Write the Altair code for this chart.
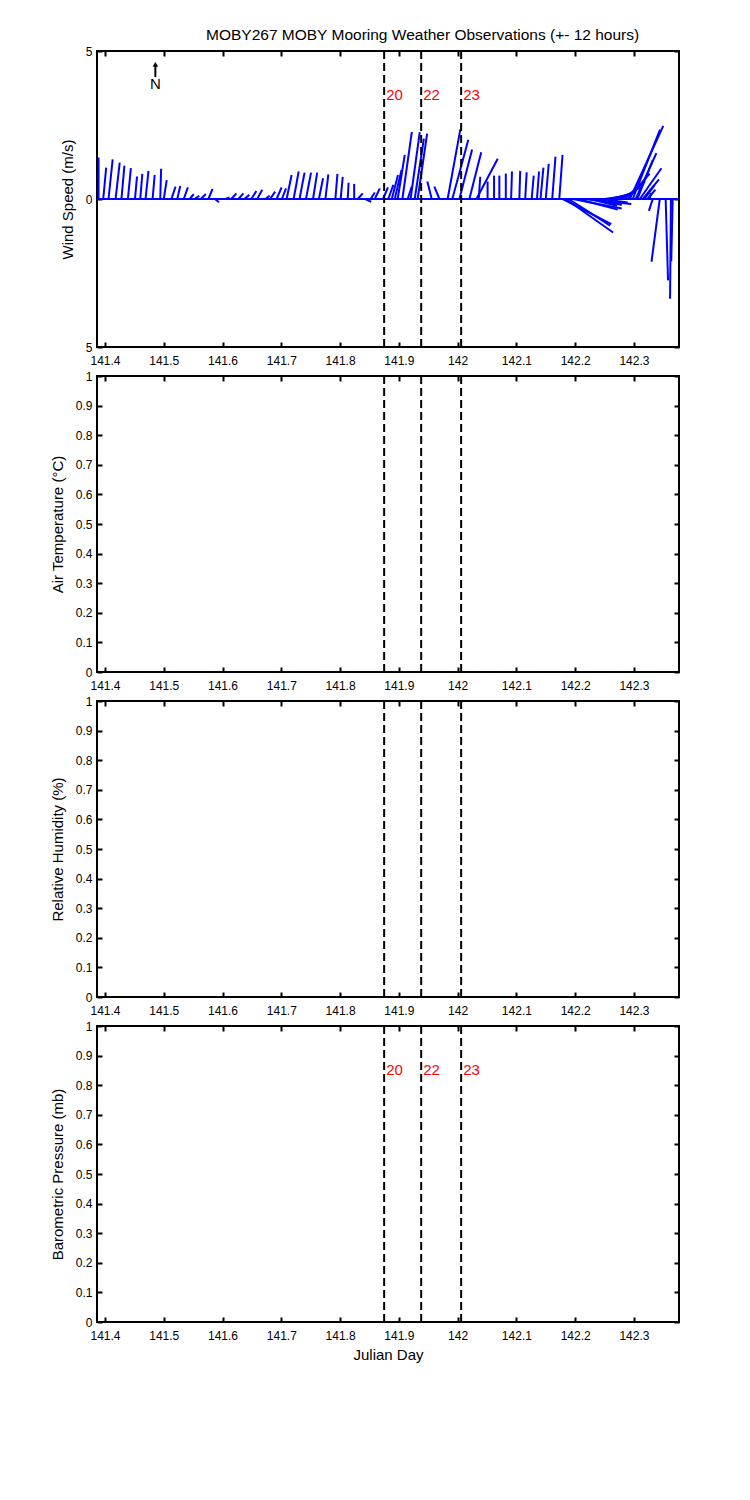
import altair as alt
import pandas as pd

FONT = "Liberation Sans"
BLUE = "#0000ff"
TITLE = "MOBY267 MOBY Mooring Weather Observations (+- 12 hours)"

# ---- wind stick data (Julian day, east component u, north component v, m/s)
stick_day = [
    141.389, 141.397, 141.406, 141.418, 141.428, 141.439, 141.451, 141.460, 141.469, 141.481,
    141.494, 141.500, 141.513, 141.523, 141.534, 141.544, 141.552, 141.563, 141.576, 141.587,
    141.605, 141.615, 141.627, 141.637, 141.649, 141.659, 141.673, 141.681, 141.692, 141.701,
    141.709, 141.721, 141.731, 141.742, 141.754, 141.764, 141.775, 141.792, 141.801, 141.813,
    141.824, 141.830, 141.843, 141.852, 141.859, 141.873,
    141.882, 141.888, 141.893, 141.898, 141.906, 141.915, 141.920, 141.927, 141.932, 141.956,
    141.969, 141.983, 141.991, 142.003, 142.020, 142.036, 142.032,
    142.051, 142.062, 142.071, 142.082, 142.091, 142.105, 142.115, 142.126, 142.135, 142.141,
    142.150, 142.161, 142.173,
    142.179, 142.184, 142.189, 142.196, 142.204, 142.214, 142.225, 142.235, 142.245,
    142.250, 142.259, 142.267, 142.276, 142.283, 142.289, 142.293, 142.298, 142.303, 142.306,
    142.310, 142.315, 142.318, 142.323, 142.327,
    142.332, 142.344, 142.354, 142.363, 142.366,
]
stick_u = [
    0.00, 0.10, 0.14, 0.14, 0.10, 0.10, 0.07, 0.07, 0.10, 0.07,
    0.03, 0.10, 0.14, 0.10, 0.14, 0.14, 0.17, 0.17, 0.14, 0.14,
    0.14, 0.17, 0.17, 0.17, 0.17, 0.17, 0.14, 0.17, 0.17, 0.14,
    0.17, 0.17, 0.17, 0.17, 0.14, 0.14, 0.10, 0.07, 0.07, 0.03,
    0.00, 0.17, 0.20, 0.14, 0.17, 0.17,
    0.17, 0.21, 0.23, 0.24, 0.32, 0.14, 0.31, 0.31, 0.32, -0.15,
    -0.17, 0.43, 0.54, 0.43, 0.40, 0.05, 0.72,
    0.00, 0.00, 0.00, 0.00, 0.03, 0.03, 0.05, 0.07, 0.07, 0.10,
    0.10, 0.11, 0.11,
    1.64, 1.60, 1.40, 1.65, 1.36, 1.62, 0.92, 0.88, 0.88,
    0.78, 0.75, 0.71, 0.68, 0.71, 0.75, 1.13, 0.92, 0.70, 0.52,
    0.73, 0.55, 0.34, 0.27, 0.03,
    -0.13, -0.28, 0.08, -0.03, -0.05,
]
stick_v = [
    1.40, 1.06, 1.34, 1.23, 1.13, 1.04, 0.76, 0.85, 0.95, 0.81,
    1.02, 0.64, 0.42, 0.44, 0.39, 0.16, 0.11, 0.17, 0.34, -0.11,
    0.05, 0.19, 0.19, 0.14, 0.27, 0.31, 0.11, 0.25, 0.39, 0.36,
    0.81, 0.93, 0.89, 0.89, 0.89, 0.70, 0.83, 0.85, 0.75, 0.55,
    0.51, 0.19, -0.10, 0.22, 0.36, 0.39,
    0.48, 0.81, 0.98, 1.49, 2.27, 0.42, 2.26, 2.04, 2.21, 0.59,
    0.42, 2.35, 2.00, 1.67, 1.58, 0.75, 1.36,
    0.59, 0.79, 0.79, 0.86, 0.93, 0.95, 0.90, 0.79, 0.93, 1.06,
    1.19, 1.43, 1.49,
    -0.85, -1.13, -0.90, -0.32, -0.36, -0.17, -0.23, -0.20, -0.12,
    0.11, 0.18, 0.25, 0.38, 0.59, 0.86, 2.47, 2.34, 1.55, 1.32,
    1.04, 0.66, 0.47, 0.32, 0.20,
    -0.40, -2.12, -2.75, -3.37, -2.10,
]

# ---- event markers
event_day = [141.875, 141.938, 142.006]
event_label = ["20", "22", "23"]

# ---- axes
x_tick_values = [141.4, 141.5, 141.6, 141.7, 141.8, 141.9, 142.0, 142.1, 142.2, 142.3]
wind_tick_values = [-5, 0, 5]
unit_tick_values = [0, 0.1, 0.2, 0.3, 0.4, 0.5, 0.6, 0.7, 0.8, 0.9, 1.0]

X_DOMAIN = [141.3864, 142.3767]
WIND_DOMAIN = [-5, 5]
UNIT_DOMAIN = [0, 1]
W, H = 582, 296

LABEL_Y_WIND = 3.53
LABEL_Y_PRESSURE = 0.85
NORTH_X = 141.4857
NORTH_SHAFT = [4.12, 4.50]
NORTH_HEAD = 4.55
NORTH_TEXT = 3.88

# stick length in days per m/s so that directions keep the true aspect
days_per_ms = (X_DOMAIN[1] - X_DOMAIN[0]) / W * H / (WIND_DOMAIN[1] - WIND_DOMAIN[0])

wind = pd.DataFrame({"day": stick_day, "u": stick_u, "v": stick_v})
wind["tip"] = wind["day"] + wind["u"] * days_per_ms
wind["zero"] = 0.0
events = pd.DataFrame({"day": event_day, "label": event_label})
one = pd.DataFrame({"zero": [0.0]})

x_scale = alt.Scale(domain=X_DOMAIN, nice=False, zero=False)
wind_y = alt.Scale(domain=WIND_DOMAIN, nice=False, zero=False)
unit_y = alt.Scale(domain=UNIT_DOMAIN, nice=False, zero=False)

X_LABEL = "format(datum.value, '.1f') == '142.0' ? '142' : format(datum.value, '.1f')"
UNIT_LABEL = "datum.value == 0 ? '0' : (datum.value == 1 ? '1' : format(datum.value, '.1f'))"
WIND_LABEL = "format(abs(datum.value), 'd')"

TICKS = dict(domain=False, grid=False, tickSize=5, tickWidth=2, tickColor="black", offset=-5)


def x_bottom(title):
    kw = dict(orient="bottom", values=x_tick_values, labelExpr=X_LABEL, labelFont=FONT,
              labelFontSize=12, labelColor="black", labelPadding=8, labelOverlap=False,
              labelFlush=False, **TICKS)
    if title:
        kw.update(title=title, titleFont=FONT, titleFontSize=15, titleFontWeight="normal",
                  titleColor="black", titlePadding=6)
    else:
        kw.update(title=None)
    return alt.Axis(**kw)


def y_left(title, values, expr):
    return alt.Axis(orient="left", values=values, labelExpr=expr, labelFont=FONT,
                    labelFontSize=12, labelColor="black", labelPadding=5, labelOverlap=False,
                    labelFlush=False, title=title, titleFont=FONT, titleFontSize=15,
                    titleFontWeight="normal", titleColor="black", titlePadding=10, **TICKS)


def x_top():
    return alt.Axis(orient="top", values=x_tick_values, labels=False, title=None, **TICKS)


def y_right(values):
    return alt.Axis(orient="right", values=values, labels=False, title=None, **TICKS)


def xf(field):
    return alt.X(field, type="quantitative", scale=x_scale, axis=None)


def yf(field, scale):
    return alt.Y(field, type="quantitative", scale=scale, axis=None)


def panel(ytitle, yscale, ydomain, yvals, yexpr, data_layers, xtitle=None):
    corners = pd.DataFrame({"day": X_DOMAIN, "val": ydomain})
    carrier = alt.Chart(corners).mark_point(opacity=0).encode(
        x=alt.X("day:Q", scale=x_scale, axis=x_bottom(xtitle)),
        y=alt.Y("val:Q", scale=yscale, axis=y_left(ytitle, yvals, yexpr)),
    )
    carrier2 = alt.Chart(corners).mark_point(opacity=0).encode(
        x=alt.X("day:Q", scale=x_scale, axis=x_top()),
        y=alt.Y("val:Q", scale=yscale, axis=y_right(yvals)),
    )
    dashed = alt.Chart(events).mark_rule(color="black", strokeWidth=2,
                                         strokeDash=[8, 4]).encode(x=xf("day:Q"))
    return alt.layer(*data_layers, dashed, carrier, carrier2).resolve_axis(
        x="independent", y="independent").properties(width=W, height=H)


# wind panel layers
baseline = alt.Chart(one).mark_rule(color=BLUE, strokeWidth=2).encode(
    y=yf("zero:Q", wind_y))
sticks = alt.Chart(wind).mark_rule(color=BLUE, strokeWidth=2).encode(
    x=xf("day:Q"), x2="tip:Q", y=yf("zero:Q", wind_y), y2="v:Q")
wind_labels = alt.Chart(events).transform_calculate(ly=str(LABEL_Y_WIND)).mark_text(
    color="red", align="left", baseline="middle", dx=2, font=FONT, fontSize=15).encode(
    x=xf("day:Q"), y=yf("ly:Q", wind_y), text="label:N")
north = alt.Chart(one).transform_calculate(
    nx=str(NORTH_X), s0=str(NORTH_SHAFT[0]), s1=str(NORTH_SHAFT[1]),
    hy=str(NORTH_HEAD), ty=str(NORTH_TEXT))
north_shaft = north.mark_rule(color="black", strokeWidth=2).encode(
    x=xf("nx:Q"), y=yf("s0:Q", wind_y), y2="s1:Q")
north_head = north.mark_point(shape="triangle-up", filled=True, color="black",
                              opacity=1, size=30).encode(x=xf("nx:Q"), y=yf("hy:Q", wind_y))
north_text = north.mark_text(text="N", font=FONT, fontSize=15, color="black",
                             baseline="middle", align="center").encode(
    x=xf("nx:Q"), y=yf("ty:Q", wind_y))

p1 = panel("Wind Speed (m/s)", wind_y, WIND_DOMAIN, wind_tick_values, WIND_LABEL,
           [baseline, sticks, wind_labels, north_shaft, north_head, north_text]).properties(
    title=alt.TitleParams(TITLE, anchor="start", dx=109, fontSize=15.5, font=FONT,
                          fontWeight="normal", color="black", offset=2, frame="group"))
p2 = panel("Air Temperature (°C)", unit_y, UNIT_DOMAIN, unit_tick_values, UNIT_LABEL, [])
p3 = panel("Relative Humidity (%)", unit_y, UNIT_DOMAIN, unit_tick_values, UNIT_LABEL, [])
p_labels = alt.Chart(events).transform_calculate(ly=str(LABEL_Y_PRESSURE)).mark_text(
    color="red", align="left", baseline="middle", dx=2, font=FONT, fontSize=15).encode(
    x=xf("day:Q"), y=yf("ly:Q", unit_y), text="label:N")
p4 = panel("Barometric Pressure (mb)", unit_y, UNIT_DOMAIN, unit_tick_values, UNIT_LABEL,
           [p_labels], xtitle="Julian Day")

chart = alt.vconcat(p1, p2, p3, p4, spacing=29, bounds="flush",
                    padding={"left": 41, "top": 18, "right": 10, "bottom": 10}).configure(
    font=FONT, background="white").configure_view(stroke="black", strokeWidth=2)

chart.save("out.html", embed_options={"renderer": "svg", "actions": False})
